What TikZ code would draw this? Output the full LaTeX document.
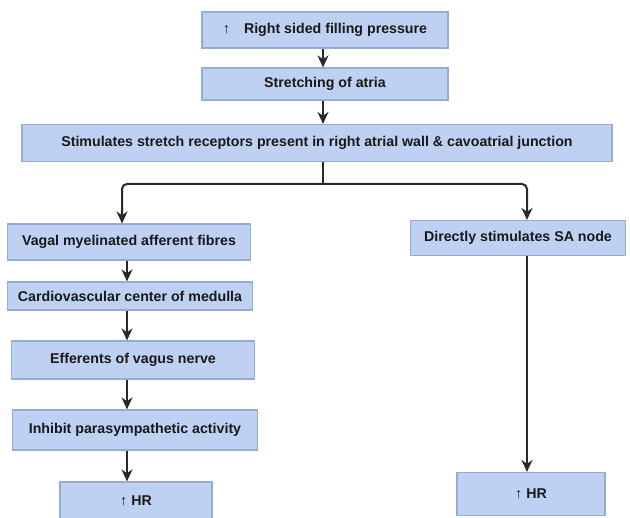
\documentclass[tikz,border=0pt]{standalone}
\usepackage{fontspec}
\setmainfont{Liberation Sans}
\usetikzlibrary{arrows.meta}
\definecolor{boxfill}{RGB}{190,209,243}
\definecolor{boxline}{RGB}{150,172,212}
\definecolor{arr}{RGB}{40,40,45}
\tikzset{
  box/.style={draw=boxline, fill=boxfill, line width=1.2pt, inner sep=0pt,
    font=\fontsize{14.2}{16}\selectfont\bfseries, text=black!90, anchor=center},
  link/.style={draw=arr, line width=1.8pt, -{Stealth[length=12pt,width=11pt]}},
}
\begin{document}
\begin{tikzpicture}[x=1pt,y=-1pt]
\useasboundingbox (0,0) rectangle (630,518);
\node[box, minimum width=246pt, minimum height=36pt] (b1) at (325,30) {↑\hspace{14pt}Right sided filling pressure};
\node[box, minimum width=246pt, minimum height=32pt] (b2) at (325,84) {Stretching of atria};
\node[box, minimum width=590pt, minimum height=37pt] (b3) at (317,143) {Stimulates stretch receptors present in right atrial wall \& cavoatrial junction};
\node[box, minimum width=243pt, minimum height=36pt] (b4) at (129,242) {Vagal myelinated afferent fibres};
\node[box, minimum width=245pt, minimum height=28pt] (b5) at (130,296) {Cardiovascular center of medulla};
\node[box, minimum width=243pt, minimum height=38pt] (b6) at (133,360) {Efferents of vagus nerve};
\node[box, minimum width=245pt, minimum height=40pt] (b7) at (135,430) {Inhibit parasympathetic activity};
\node[box, minimum width=152pt, minimum height=38pt] (b8) at (136,501) {↑ HR};
\node[box, minimum width=215pt, minimum height=35pt] (b9) at (518,238) {Directly stimulates SA node};
\node[box, minimum width=148pt, minimum height=43pt] (b10) at (531,494) {↑ HR};
\coordinate (j) at (323,184);
\coordinate (lc) at (127,0);
\coordinate (rc) at (527,0);
\draw[link] (b1.south -| j) -- (b2.north -| j);
\draw[link] (b2.south -| j) -- (b3.north -| j);
\draw[draw=arr, line width=2pt] (b3.south -| j) -- (j);
\draw[link, line width=2pt, rounded corners=5pt] (j) -| ([xshift=-7pt]b4.north);
\draw[link, line width=2pt, rounded corners=5pt] (j) -| (b9.north -| rc);
\draw[link] (b4.south -| lc) -- (b5.north -| lc);
\draw[link] (b5.south -| lc) -- (b6.north -| lc);
\draw[link] (b6.south -| lc) -- (b7.north -| lc);
\draw[link] (b7.south -| lc) -- (b8.north -| lc);
\draw[link] (b9.south -| rc) -- (b10.north -| rc);
\end{tikzpicture}
\end{document}
